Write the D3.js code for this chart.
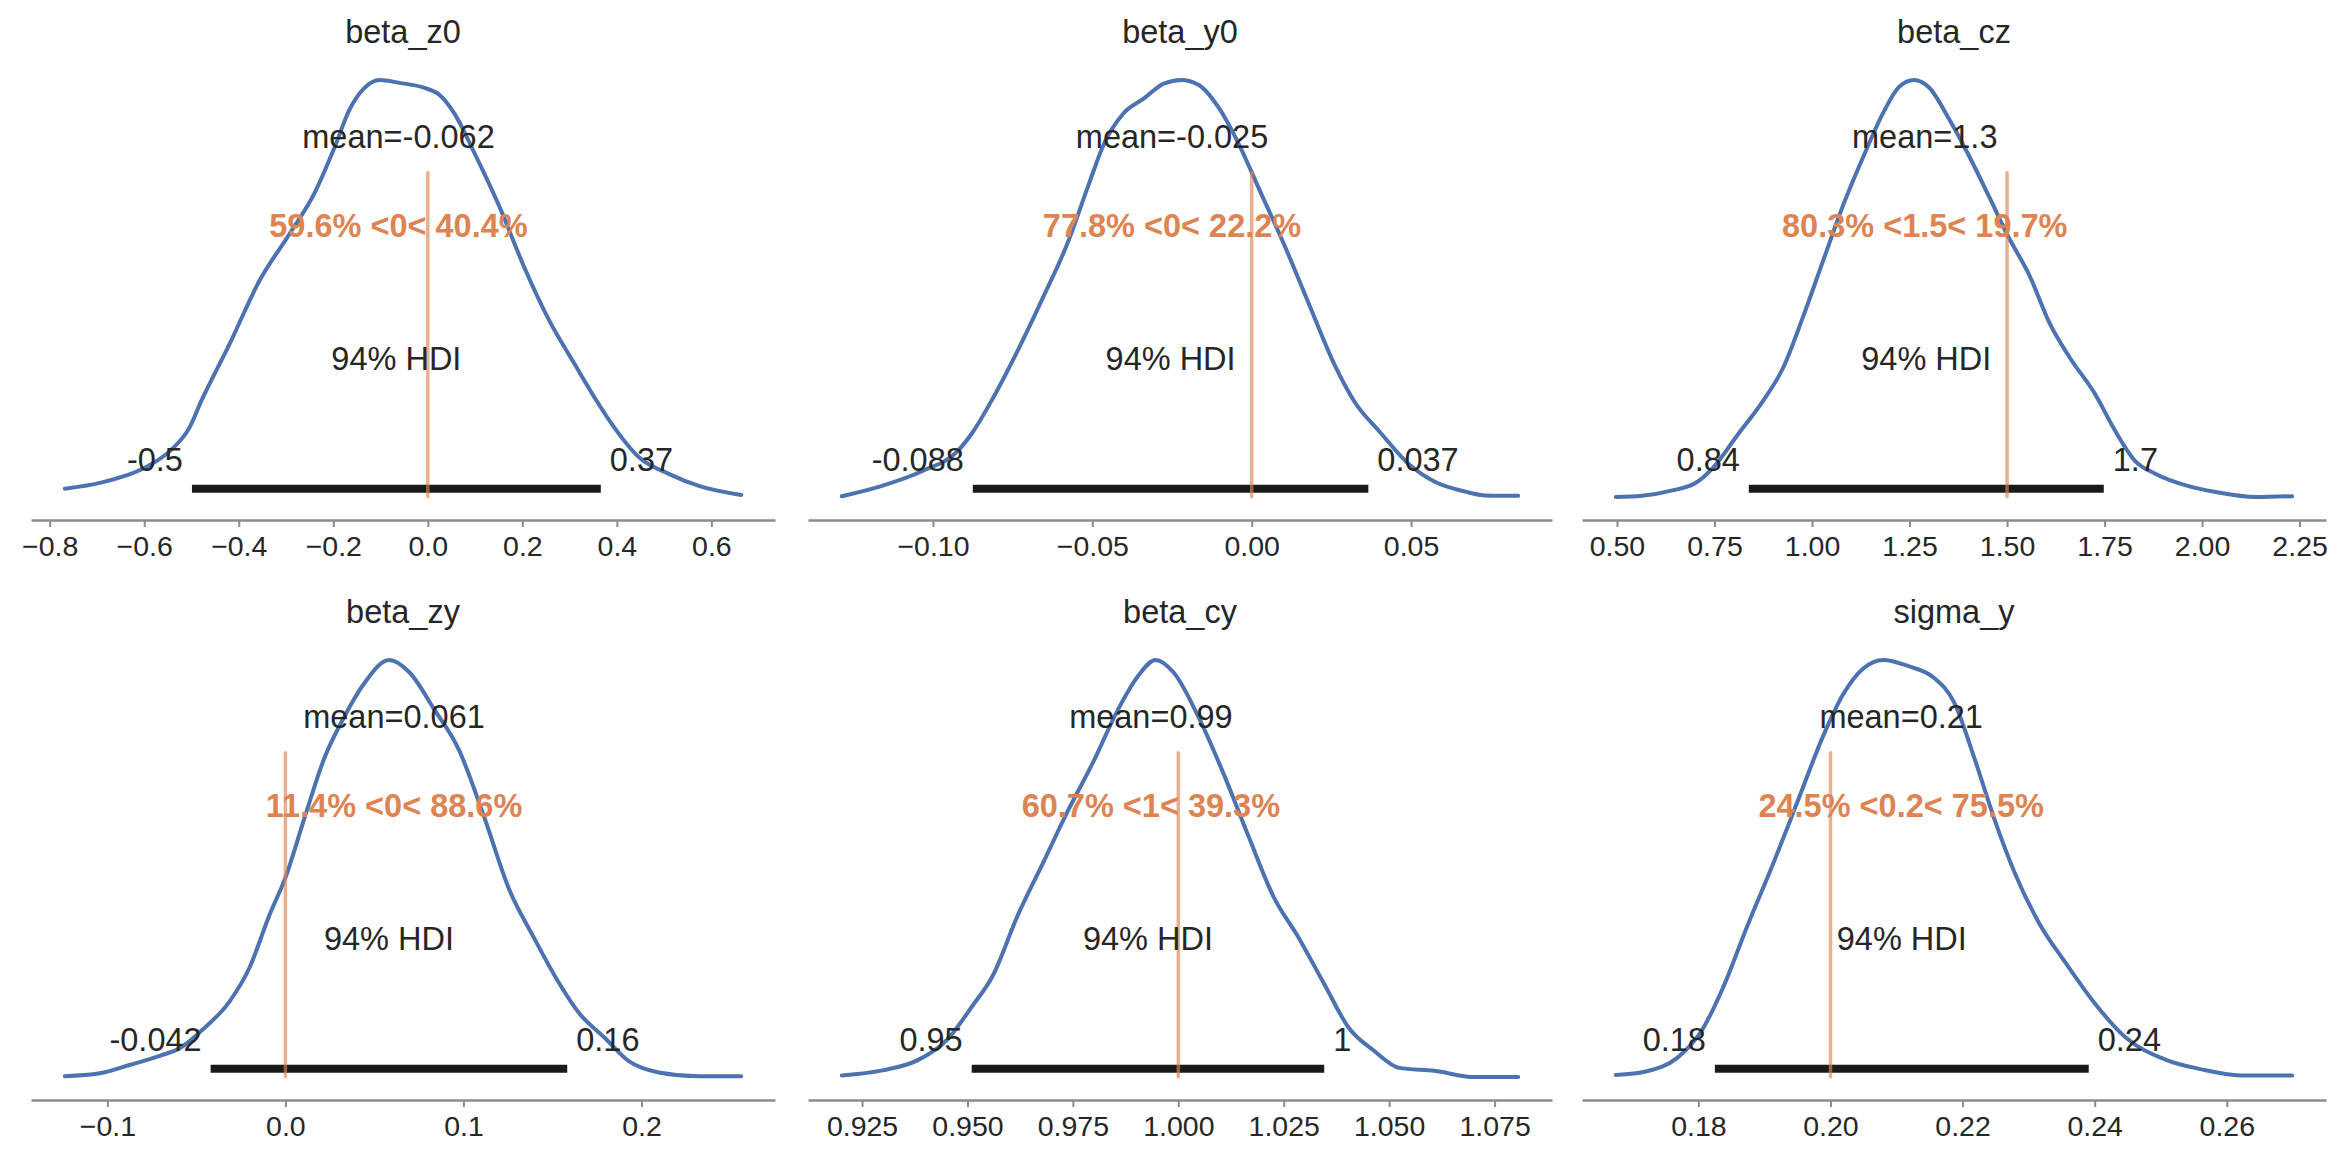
<!DOCTYPE html>
<html>
<head>
<meta charset="utf-8">
<script src="https://cdn.jsdelivr.net/npm/d3@7"></script>
<style>
  body { margin: 0; background: #fff; }
  text { font-family: "Liberation Sans", Arial, sans-serif; }
</style>
</head>
<body>
<script>
// posterior summaries, one entry per panel (row by row)
var titles = ["beta_z0", "beta_y0", "beta_cz", "beta_zy", "beta_cy", "sigma_y"];
var means = [-0.062, -0.025, 1.289, 0.061, 0.9935, 0.2107];
var meanLabels = ["-0.062", "-0.025", "1.3", "0.061", "0.99", "0.21"];
var refVals = [0, 0, 1.5, 0, 1, 0.2];
var refLabels = ["0", "0", "1.5", "0", "1", "0.2"];
var refBelow = ["59.6%", "77.8%", "80.3%", "11.4%", "60.7%", "24.5%"];
var refAbove = ["40.4%", "22.2%", "19.7%", "88.6%", "39.3%", "75.5%"];
var hdiLow = [-0.499, -0.0875, 0.838, -0.042, 0.951, 0.1825];
var hdiHigh = [0.366, 0.0366, 1.748, 0.1583, 1.0346, 0.2391];
var hdiLowLabels = ["-0.5", "-0.088", "0.84", "-0.042", "0.95", "0.18"];
var hdiHighLabels = ["0.37", "0.037", "1.7", "0.16", "1", "0.24"];

var tickVals = [
  [-0.8, -0.6, -0.4, -0.2, 0.0, 0.2, 0.4, 0.6],
  [-0.10, -0.05, 0.00, 0.05],
  [0.50, 0.75, 1.00, 1.25, 1.50, 1.75, 2.00, 2.25],
  [-0.1, 0.0, 0.1, 0.2],
  [0.925, 0.950, 0.975, 1.000, 1.025, 1.050, 1.075],
  [0.18, 0.20, 0.22, 0.24, 0.26]
];
var tickFormats = [".1f", ".2f", ".2f", ".1f", ".3f", ".2f"];

// kde curves (density relative to the peak)
var kdeX = [
  [-0.768, -0.694, -0.599, -0.546, -0.504, -0.479, -0.419, -0.356, -0.292, -0.240, -0.197, -0.166, -0.134, -0.102, -0.060, -0.007, 0.025, 0.056, 0.099, 0.152, 0.204, 0.257, 0.310, 0.357, 0.395, 0.448, 0.511, 0.575, 0.663],
  [-0.1286, -0.116, -0.1033, -0.0923, -0.0875, -0.0812, -0.0733, -0.0655, -0.0576, -0.0513, -0.0465, -0.0402, -0.0339, -0.0276, -0.0221, -0.0166, -0.0103, -0.0039, 0.0024, 0.0103, 0.0181, 0.026, 0.0323, 0.0402, 0.0497, 0.0576, 0.067, 0.0733, 0.0836],
  [0.497, 0.564, 0.642, 0.700, 0.745, 0.810, 0.874, 0.926, 0.977, 1.029, 1.080, 1.132, 1.184, 1.222, 1.261, 1.300, 1.351, 1.403, 1.454, 1.500, 1.558, 1.609, 1.661, 1.725, 1.777, 1.828, 1.880, 1.970, 2.035, 2.138, 2.231],
  [-0.1239, -0.1043, -0.0875, -0.0706, -0.0594, -0.0454, -0.0314, -0.0202, -0.009, 0.0, 0.0107, 0.0219, 0.0331, 0.0443, 0.0583, 0.0695, 0.0835, 0.0976, 0.1116, 0.1256, 0.1396, 0.1536, 0.1648, 0.1789, 0.1929, 0.2097, 0.2321, 0.256],
  [0.9202, 0.9298, 0.9381, 0.9452, 0.9512, 0.956, 0.9619, 0.9679, 0.9738, 0.9798, 0.9857, 0.9905, 0.9946, 0.9988, 1.0048, 1.0107, 1.0167, 1.0226, 1.0286, 1.0345, 1.0405, 1.0464, 1.0524, 1.0607, 1.0702, 1.0806],
  [0.1675, 0.1722, 0.1768, 0.1806, 0.1837, 0.1875, 0.1913, 0.1951, 0.1989, 0.2019, 0.205, 0.208, 0.2118, 0.2156, 0.2187, 0.2218, 0.2248, 0.2278, 0.2317, 0.2355, 0.24, 0.2446, 0.2507, 0.256, 0.2621, 0.2699]
];
var kdeY = [
  [0.02, 0.034, 0.07, 0.11, 0.167, 0.231, 0.368, 0.519, 0.632, 0.728, 0.839, 0.928, 0.981, 1.0, 0.993, 0.981, 0.964, 0.92, 0.824, 0.695, 0.551, 0.423, 0.32, 0.231, 0.166, 0.094, 0.055, 0.026, 0.005],
  [0.002, 0.027, 0.0625, 0.11, 0.156, 0.237, 0.353, 0.478, 0.612, 0.746, 0.844, 0.92, 0.955, 0.991, 1.0, 0.988, 0.933, 0.844, 0.737, 0.603, 0.46, 0.317, 0.228, 0.156, 0.076, 0.036, 0.013, 0.004, 0.003],
  [0.0, 0.003, 0.016, 0.033, 0.069, 0.15, 0.23, 0.31, 0.432, 0.568, 0.70, 0.817, 0.924, 0.982, 1.0, 0.982, 0.907, 0.817, 0.72, 0.63, 0.53, 0.417, 0.334, 0.248, 0.159, 0.087, 0.056, 0.025, 0.012, 0.0, 0.002],
  [0.002, 0.009, 0.029, 0.051, 0.069, 0.118, 0.181, 0.262, 0.388, 0.478, 0.621, 0.765, 0.864, 0.944, 1.0, 0.971, 0.882, 0.783, 0.624, 0.451, 0.334, 0.226, 0.154, 0.096, 0.038, 0.011, 0.002, 0.002],
  [0.004, 0.016, 0.04, 0.09, 0.171, 0.243, 0.387, 0.513, 0.638, 0.755, 0.881, 0.962, 1.0, 0.971, 0.863, 0.728, 0.576, 0.432, 0.333, 0.225, 0.117, 0.063, 0.022, 0.015, 0.0, 0.0],
  [0.005, 0.014, 0.046, 0.114, 0.213, 0.366, 0.511, 0.664, 0.818, 0.917, 0.98, 1.0, 0.985, 0.958, 0.899, 0.764, 0.619, 0.493, 0.366, 0.276, 0.177, 0.096, 0.042, 0.019, 0.004, 0.004]
];

var svgWidth = 2347, svgHeight = 1167;
var colLeft = [31, 808, 1582], axW = 744;
var rowTop = [57, 637], axH = 463;

var blue = "#4c72b0", orange = "#dd8452", ink = "#262626", spine = "#8c8c8c";
var labelSize = 32.5, tickSize = 28.5;

var svg = d3.select("body").append("svg")
  .attr("width", svgWidth)
  .attr("height", svgHeight);

titles.forEach(function(title, i) {
  var left = colLeft[i % 3], top = rowTop[Math.floor(i / 3)];
  var bottom = top + axH;

  // x domain = kde extent plus 5% margins, like matplotlib autoscale
  var ext = d3.extent(kdeX[i]);
  var pad = (ext[1] - ext[0]) * 0.05;
  var x = d3.scaleLinear().domain([ext[0] - pad, ext[1] + pad]).range([left, left + axW]);
  var y = d3.scaleLinear().domain([-0.055, 1.055]).range([bottom, top]);

  var g = svg.append("g");

  // title
  g.append("text")
    .attr("x", left + axW / 2)
    .attr("y", top - 14)
    .attr("text-anchor", "middle")
    .style("font-size", labelSize + "px")
    .style("fill", ink)
    .text(title);

  // bottom axis
  var axis = d3.axisBottom(x)
    .tickValues(tickVals[i])
    .tickFormat(d3.format(tickFormats[i]))
    .tickSize(7)
    .tickPadding(9)
    .tickSizeOuter(0);
  var ax = g.append("g")
    .attr("transform", "translate(0," + bottom + ")")
    .call(axis);
  ax.select(".domain").attr("stroke", spine).attr("stroke-width", 2.7);
  ax.selectAll(".tick line").attr("stroke", spine).attr("stroke-width", 2);
  ax.selectAll(".tick text")
    .attr("fill", ink)
    .style("font-size", tickSize + "px")
    .style("font-family", '"Liberation Sans", Arial, sans-serif');

  // kde curve
  var pts = kdeX[i].map(function(v, k) { return [v, kdeY[i][k]]; });
  g.append("path")
    .datum(pts)
    .attr("fill", "none")
    .attr("stroke", blue)
    .attr("stroke-width", 4)
    .attr("stroke-linejoin", "round")
    .attr("stroke-linecap", "round")
    .attr("d", d3.line()
      .x(function(d) { return x(d[0]); })
      .y(function(d) { return y(d[1]); })
      .curve(d3.curveMonotoneX));

  // hdi bar
  g.append("line")
    .attr("x1", x(hdiLow[i]))
    .attr("x2", x(hdiHigh[i]))
    .attr("y1", y(0.02))
    .attr("y2", y(0.02))
    .attr("stroke", "#1a1a1a")
    .attr("stroke-width", 8);

  // reference line (axes fraction 0.05 .. 0.75)
  g.append("line")
    .attr("x1", x(refVals[i]))
    .attr("x2", x(refVals[i]))
    .attr("y1", bottom - 0.05 * axH)
    .attr("y2", bottom - 0.75 * axH)
    .attr("stroke", orange)
    .attr("stroke-opacity", 0.65)
    .attr("stroke-width", 3.5)
    .attr("stroke-linecap", "round");

  // texts
  g.append("text")
    .attr("x", x(means[i]))
    .attr("y", y(0.836))
    .attr("text-anchor", "middle")
    .style("font-size", labelSize + "px")
    .style("fill", ink)
    .text("mean=" + meanLabels[i]);

  g.append("text")
    .attr("x", x(means[i]))
    .attr("y", y(0.6225))
    .attr("text-anchor", "middle")
    .style("font-size", labelSize + "px")
    .style("font-weight", "bold")
    .style("fill", orange)
    .text(refBelow[i] + " <" + refLabels[i] + "< " + refAbove[i]);

  g.append("text")
    .attr("x", x((hdiLow[i] + hdiHigh[i]) / 2))
    .attr("y", y(0.304))
    .attr("text-anchor", "middle")
    .style("font-size", labelSize + "px")
    .style("fill", ink)
    .text("94% HDI");

  g.append("text")
    .attr("x", x(hdiLow[i]) - 9)
    .attr("y", y(0.0635))
    .attr("text-anchor", "end")
    .style("font-size", labelSize + "px")
    .style("fill", ink)
    .text(hdiLowLabels[i]);

  g.append("text")
    .attr("x", x(hdiHigh[i]) + 9)
    .attr("y", y(0.0635))
    .attr("text-anchor", "start")
    .style("font-size", labelSize + "px")
    .style("fill", ink)
    .text(hdiHighLabels[i]);
});
</script>
</body>
</html>
